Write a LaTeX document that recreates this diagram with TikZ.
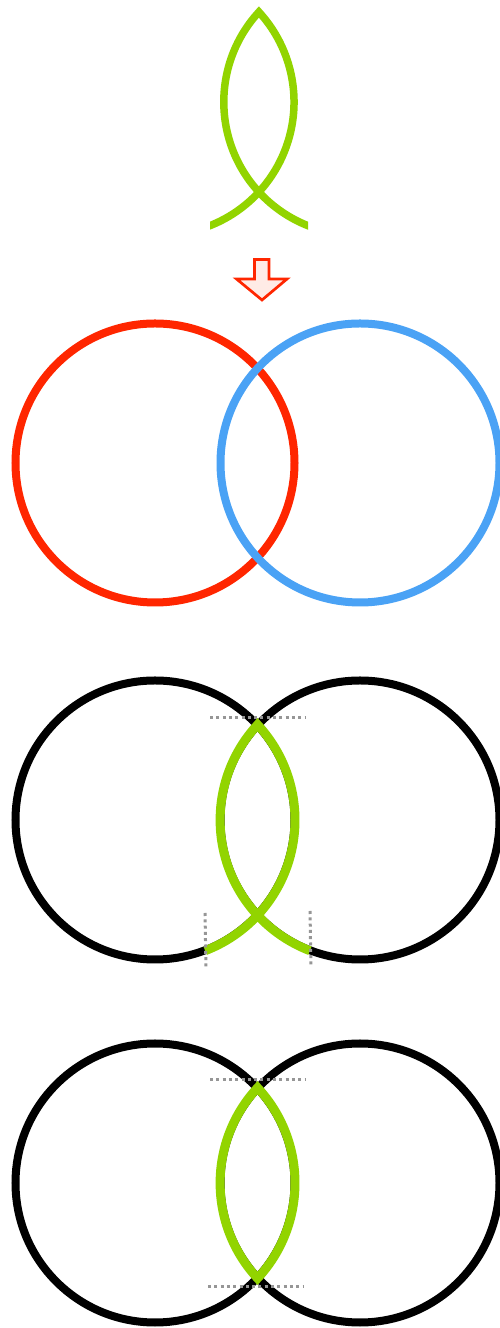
\documentclass[tikz,border=0pt]{standalone}
\usepackage{xcolor}
\usepackage{tikz}
\definecolor{fishgreen}{HTML}{92D400}
\definecolor{ringred}{HTML}{FF2600}
\definecolor{ringblue}{HTML}{4AA2F5}
\definecolor{guidegray}{HTML}{969696}
\definecolor{arrowpink}{HTML}{FFEBE6}
\tikzset{
  ring/.style={line width=8pt},
  fishline/.style={draw=fishgreen, line width=9pt},
  guide/.style={draw=guidegray, line width=3pt, dash pattern=on 3pt off 3.3pt},
}
\begin{document}
\begin{tikzpicture}[x=1pt, y=1pt]
    \useasboundingbox (0,0) rectangle (500,1328);
    % fish on top
    \begin{scope}
      \clip (210,1090) rectangle (308,1328);
      \draw[fishline, line width=7.5pt] ([shift={(-75:133)}]161,1226) arc (-75:42.6:133) arc (137.4:255:133);
    \end{scope}
    % down arrow
    \draw[draw=ringred, fill=arrowpink, line width=2.7pt, miter limit=10]
      (254.5,1068.5) -- (269,1068.5) -- (269,1049) -- (287,1049) -- (262,1028)
      -- (236.5,1049) -- (254.5,1049) -- cycle;
    % coloured circles
    \draw[ring, draw=ringred] (155,865) circle (139.5);
    \draw[ring, draw=ringblue] (360,865) circle (139.5);
    % black circles, fish with tails
    \foreach \cy in {508,145} {
      \draw[ring] (155,\cy) circle (139.5);
      \draw[ring] (360,\cy) circle (139.5);
    }
    \draw[fishline] ([shift={(-69:140)}]155,508) arc (-69:42.9:140) arc (137.1:249:140);
    \draw[guide] (210,610) -- (306,610);
    \draw[guide] (205,415) -- (206,360);
    \draw[guide] (310,417) -- (311,361);
    % lens only
    \draw[fishline] ([shift={(42.9:140)}]155,145) arc (42.9:-42.9:140) arc (222.9:137.1:140) -- cycle;
    \draw[guide] (210,248) -- (306,248);
    \draw[guide] (208,41) -- (304,41);
  \end{tikzpicture}
\end{document}
